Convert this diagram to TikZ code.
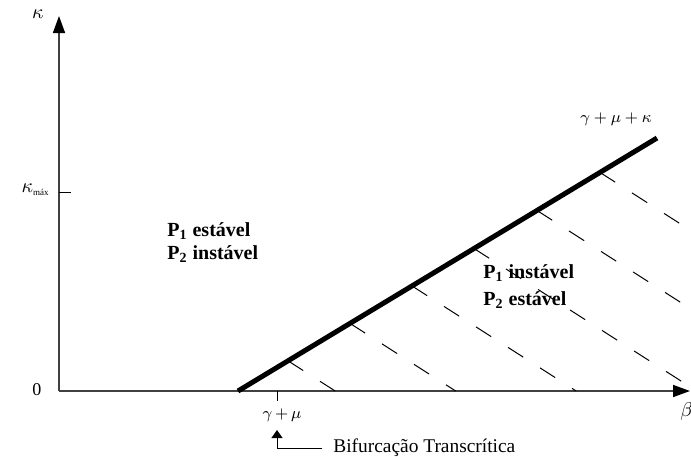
\documentclass[tikz,border=0pt]{standalone}
\usepackage{fontspec}
\setmainfont{Liberation Serif}
\usetikzlibrary{arrows.meta}
\tikzset{
  eixo/.style={draw=black!75, line width=0.8pt, -{Triangle[length=8.5pt,width=6pt,color=black]}},
  fronteira/.style={line width=2.5pt},
  hachura/.style={line width=0.5pt, dash pattern=on 9pt off 10pt},
  rotulo/.style={font=\fontsize{8.5}{9}\selectfont, inner sep=0pt},
  rotuloeixo/.style={font=\fontsize{10}{11}\selectfont, inner sep=0pt},
  regiao/.style={font=\fontsize{10}{12}\selectfont\bfseries, inner sep=0pt, anchor=base west},
}
\begin{document}
\begin{tikzpicture}[x=0.5pt,y=-0.5pt]
  \useasboundingbox (0,0) rectangle (691,457);
  % eixos
  \coordinate (O) at (59,391);
  \coordinate (ktopo) at (59,16);
  \coordinate (bfim) at (690,391);
  \draw [eixo] (O) -- (ktopo);
  \draw [eixo] (O) -- (bfim);
  \node [rotuloeixo] (keixo) at (38,14) {$\kappa$};
  \node [rotuloeixo,anchor=west] (beixo) at (680,411) {$\beta$};
  \node [font=\fontsize{9}{10}\selectfont, inner sep=0pt] (zero) at (37,390) {0};
  % kappa max
  \coordinate (kmax) at (59,192);
  \draw [line width=0.5pt] (kmax) -- ++(12,0);
  \node [rotuloeixo,anchor=east] (kmaxlabel) at (50,190) {$\kappa_{\mbox{\fontsize{4.5}{5}\selectfont máx}}$};
  % gamma + mu
  \coordinate (bif0) at (277,391);
  \draw [line width=0.5pt] (bif0) -- ++(0,10);
  \node [rotulo] (gm) at (282,415) {$\gamma{\,+\,}\mu$};
  % fronteira de estabilidade
  \coordinate (A) at (238,391);
  \coordinate (B) at (657,138);
  \draw [fronteira] (A) -- (B);
  \node [rotulo] (gmk) at (616,119) {$\gamma+\mu+\kappa$};
  \foreach \x in {288,350,412,474,537,600}
    \draw [hachura] (\x,{391-(\x-238)*0.6038}) -- ({\x+(\x-238)*0.6038/0.64},391);
  % regioes
  \node [regiao] (p1e) at (167,236.5) {P\textsubscript{1} estável};
  \node [regiao] (p2i) at (167,259.5) {P\textsubscript{2} instável};
  \node [regiao] (p1i) at (483,278) {P\textsubscript{1} instável};
  \node [regiao] (p2e) at (483,305.5) {P\textsubscript{2} estável};
  % bifurcacao
  \node [font=\fontsize{9.7}{11}\selectfont, anchor=west, inner xsep=5.5pt, inner ysep=0pt] (bif) at (322,448) {Bifurcação Transcrítica};
  \coordinate (bifseta) at (277,430);
  \draw [line width=0.5pt, -{Triangle[length=4pt,width=5.5pt]}] (bif.west) -| (bifseta);
\end{tikzpicture}
\end{document}
